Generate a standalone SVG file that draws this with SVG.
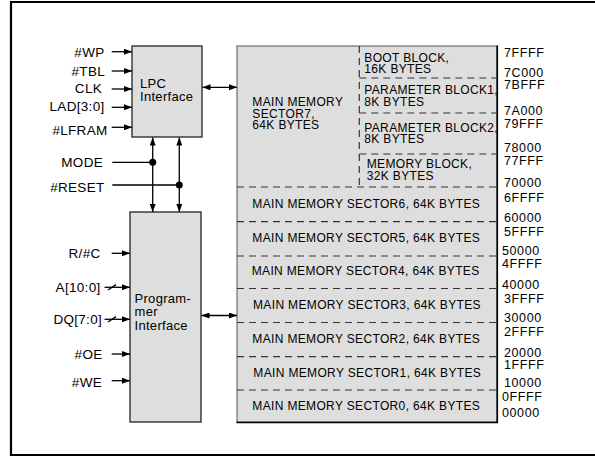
<svg xmlns="http://www.w3.org/2000/svg" width="595" height="457" viewBox="0 0 595 457">
<style>
text{font-family:"Liberation Sans",Arial,sans-serif;fill:#000}
.lbl{font-size:13.5px;letter-spacing:0.3px;text-anchor:end}
.box{font-size:13px;letter-spacing:0.3px}
.mem{font-size:12px;letter-spacing:0.35px}
.adr{font-size:12.5px;letter-spacing:0.6px}
.blk{fill:#dedede;stroke:#222;stroke-width:1.3}
.dash{stroke:#333;stroke-width:1.2;stroke-dasharray:7 5;fill:none}
.ln{stroke:#000;stroke-width:1.3;fill:none}
.a1{marker-end:url(#arr)}
.a2{marker-end:url(#arr);marker-start:url(#arr)}
</style>
<defs>
<marker id="arr" viewBox="0 0 8 6" refX="8" refY="3" markerWidth="8" markerHeight="6" markerUnits="userSpaceOnUse" orient="auto-start-reverse">
<path d="M0,0 L8,3 L0,6 z" fill="#000"/>
</marker>
</defs>
<rect width="595" height="457" fill="#fff"/>
<path d="M11,456 V2 H600 M11,455 H600" stroke="#000" stroke-width="2.2" fill="none"/>

<g id="lpc">
<rect class="blk" x="132" y="46" width="70" height="91"/>
<text class="box" x="140" y="88.3">LPC<tspan x="140" dy="12.7">Interface</tspan></text>
</g>

<g id="programmer">
<rect class="blk" x="130" y="212" width="71" height="210"/>
<text class="box" x="134.5" y="302.5">Program-<tspan x="134.5" dy="13.5">mer</tspan><tspan x="134.5" dy="13.5">Interface</tspan></text>
</g>

<g id="memory">
<rect x="237" y="46" width="260" height="376" fill="#dedede" stroke="#555" stroke-width="1"/>
<path d="M497.3,45.5 V422.5 H236.5" stroke="#000" stroke-width="1.6" fill="none"/>
<path class="dash" d="M359.3,46 V187"/>
<path class="dash" d="M359.3,78 H497 M359.3,113 H497 M359.3,154 H497"/>
<path class="dash" d="M237,187 H497 M237,221.7 H497 M237,256 H497 M237,288.5 H497 M237,322.5 H497 M237,356.7 H497 M237,390 H497"/>
<text class="mem" x="252.3" y="105.5">MAIN MEMORY<tspan x="252.3" dy="12">SECTOR7,</tspan><tspan x="252.3" dy="11.8">64K BYTES</tspan></text>
<text class="mem" x="364.3" y="62.3">BOOT BLOCK,<tspan x="364.3" dy="11">16K BYTES</tspan></text>
<text class="mem" x="364.3" y="94.3">PARAMETER BLOCK1,<tspan x="364.3" dy="11.7">8K BYTES</tspan></text>
<text class="mem" x="364.3" y="131.7">PARAMETER BLOCK2,<tspan x="364.3" dy="11.6">8K BYTES</tspan></text>
<text class="mem" x="366.7" y="168.3">MEMORY BLOCK,<tspan x="366.7" dy="11.7">32K BYTES</tspan></text>
<text class="mem" x="252.3" y="208.3">MAIN MEMORY SECTOR6, 64K BYTES</text>
<text class="mem" x="252.3" y="242.3">MAIN MEMORY SECTOR5, 64K BYTES</text>
<text class="mem" x="251.7" y="275.3">MAIN MEMORY SECTOR4, 64K BYTES</text>
<text class="mem" x="253" y="308.5">MAIN MEMORY SECTOR3, 64K BYTES</text>
<text class="mem" x="252.3" y="343.3">MAIN MEMORY SECTOR2, 64K BYTES</text>
<text class="mem" x="253.3" y="376.7">MAIN MEMORY SECTOR1, 64K BYTES</text>
<text class="mem" x="252.3" y="410">MAIN MEMORY SECTOR0, 64K BYTES</text>
</g>

<g id="addresses">
<text class="adr" x="504" y="56.7">7FFFF</text>
<text class="adr" x="504" y="76.7">7C000</text>
<text class="adr" x="504" y="89.3">7BFFF</text>
<text class="adr" x="504" y="115">7A000</text>
<text class="adr" x="504" y="128.3">79FFF</text>
<text class="adr" x="504" y="151.7">78000</text>
<text class="adr" x="504" y="165">77FFF</text>
<text class="adr" x="504" y="186.7">70000</text>
<text class="adr" x="504" y="201.7">6FFFF</text>
<text class="adr" x="504" y="221.7">60000</text>
<text class="adr" x="504" y="235.7">5FFFF</text>
<text class="adr" x="502" y="255">50000</text>
<text class="adr" x="502" y="268.3">4FFFF</text>
<text class="adr" x="502" y="289.3">40000</text>
<text class="adr" x="504" y="302.7">3FFFF</text>
<text class="adr" x="504" y="321.7">30000</text>
<text class="adr" x="504" y="336">2FFFF</text>
<text class="adr" x="504" y="356.7">20000</text>
<text class="adr" x="504" y="369">1FFFF</text>
<text class="adr" x="504" y="386.7">10000</text>
<text class="adr" x="502" y="400.7">0FFFF</text>
<text class="adr" x="502" y="416.7">00000</text>
</g>

<g id="signals">
<text class="lbl" x="104.5" y="56.7">#WP</text>
<text class="lbl" x="105" y="75.7">#TBL</text>
<text class="lbl" x="102" y="92.7">CLK</text>
<text class="lbl" x="104.5" y="111">LAD[3:0]</text>
<text class="lbl" x="107.5" y="135">#LFRAM</text>
<text class="lbl" x="103" y="166.7">MODE</text>
<text class="lbl" x="104.5" y="191.7">#RESET</text>
<text class="lbl" x="100.5" y="258.3">R/#C</text>
<text class="lbl" x="100.5" y="292.3">A[10:0]</text>
<text class="lbl" x="102" y="324">DQ[7:0]</text>
<text class="lbl" x="102.5" y="359">#OE</text>
<text class="lbl" x="102" y="386.7">#WE</text>
</g>

<g id="connectors">
<path class="ln a1" d="M111.7,51.7 H132"/>
<path class="ln a1" d="M111.7,71 H132"/>
<path class="ln a1" d="M111.7,89 H132"/>
<path class="ln a1" d="M111.7,107.3 H132"/>
<path class="ln a1" d="M111.7,127.3 H132"/>
<path class="ln" d="M112.3,162.3 H152.7"/>
<path class="ln" d="M112.3,185 H179.3"/>
<circle cx="152.7" cy="162.3" r="3.5" fill="#000"/>
<circle cx="179.3" cy="185" r="3.5" fill="#000"/>
<path class="ln a2" d="M152.7,137.5 V212"/>
<path class="ln a2" d="M179.3,137.5 V212"/>
<path class="ln a2" d="M202.5,87.3 H237"/>
<path class="ln a2" d="M201.5,315.5 H237"/>
<path class="ln a1" d="M111.7,253.3 H130"/>
<path class="ln a1" d="M104.5,287.3 H130"/>
<path class="ln" d="M108,290 L116,284.6"/>
<path class="ln a1" d="M104.5,319.3 H130"/>
<path class="ln" d="M108,322 L116,316.6"/>
<path class="ln a1" d="M111.7,354 H130"/>
<path class="ln a1" d="M111.7,380.7 H130"/>
</g>
</svg>
